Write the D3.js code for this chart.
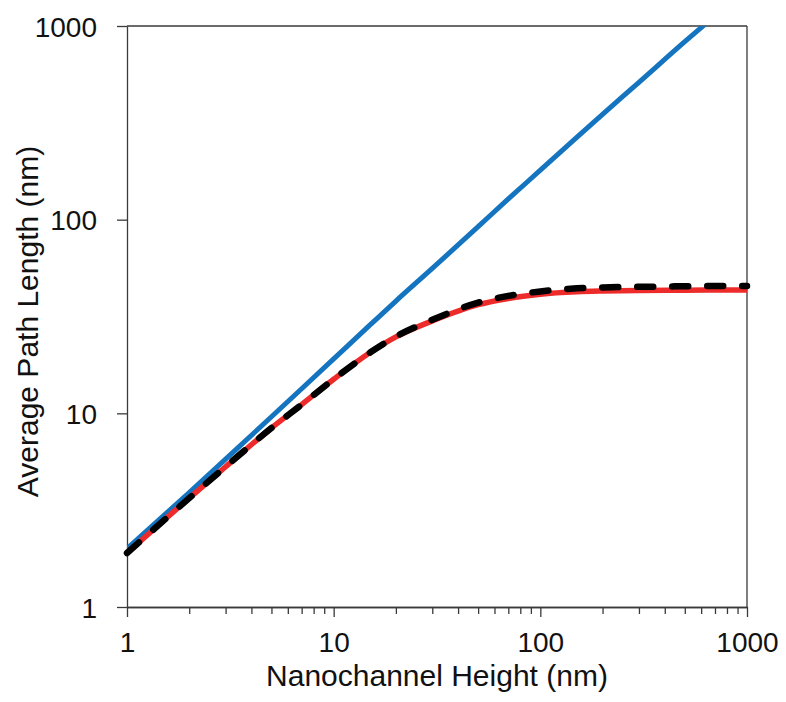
<!DOCTYPE html>
<html>
<head>
<meta charset="utf-8">
<script src="https://cdn.jsdelivr.net/npm/d3@7"></script>
<style>
  body { margin: 0; background: #fff; }
  svg { display: block; font-family: "Liberation Sans", Arial, sans-serif; }
  .axis path, .axis line { stroke: #3a3a3a; stroke-width: 1.3; }
  .axis text { fill: #111; font-size: 28px; }
</style>
</head>
<body>
<svg id="chart" width="786" height="702"></svg>
<script>
// nanochannel height (nm)
const heights = [1, 2, 3, 5, 7, 10, 15, 20, 30, 50, 70, 100, 150, 200, 300, 500, 700, 1000];
// average path length (nm)
const bulkPath = [2.0, 3.9, 5.8, 9.6, 13.4, 19.1, 28.6, 38, 56, 92, 128, 180, 266, 350, 512, 830, 1130, 1580];
const simPath = [1.9, 3.65, 5.3, 8.4, 11.1, 15.0, 20.6, 24.8, 30.0, 36.4, 39.2, 41.2, 42.4, 42.8, 43.1, 43.2, 43.3, 43.3];
const modelPath = [1.9, 3.65, 5.3, 8.4, 11.1, 15.0, 20.6, 24.9, 30.4, 37.3, 40.4, 42.6, 44.2, 44.7, 45.0, 45.3, 45.4, 45.4];

const majorTicks = [1, 10, 100, 1000];
const minorTicks = [2,3,4,5,6,7,8,9, 20,30,40,50,60,70,80,90, 200,300,400,500,600,700,800,900];

const svg = d3.select("#chart");
const plotLeft = 127, plotRight = 747, plotTop = 26, plotBottom = 607;

const x = d3.scaleLog().domain([1, 1000]).range([plotLeft, plotRight]);
const y = d3.scaleLog().domain([1, 1000]).range([plotBottom, plotTop]);

svg.append("defs").append("clipPath").attr("id", "plotclip")
  .append("rect")
  .attr("x", plotLeft).attr("y", plotTop)
  .attr("width", plotRight - plotLeft).attr("height", plotBottom - plotTop);

// frame (top + right)
svg.append("line")
  .attr("x1", plotLeft).attr("x2", plotRight).attr("y1", plotTop).attr("y2", plotTop)
  .attr("stroke", "#3a3a3a").attr("stroke-width", 1.3);
svg.append("line")
  .attr("x1", plotRight).attr("x2", plotRight).attr("y1", plotTop).attr("y2", plotBottom)
  .attr("stroke", "#3a3a3a").attr("stroke-width", 1.3);

// x axis, minor ticks first
svg.append("g")
  .attr("class", "axis")
  .attr("transform", "translate(0," + plotBottom + ")")
  .call(d3.axisBottom(x).tickValues(minorTicks).tickSize(7).tickSizeOuter(0).tickFormat(""));

let xAxis = svg.append("g")
  .attr("class", "axis")
  .attr("transform", "translate(0," + plotBottom + ")")
  .call(d3.axisBottom(x).tickValues(majorTicks).tickSize(10).tickSizeOuter(0).tickFormat(d3.format("d")));
xAxis.selectAll("text").attr("dy", null).attr("y", 45);

let yAxis = svg.append("g")
  .attr("class", "axis")
  .attr("transform", "translate(" + plotLeft + ",0)")
  .call(d3.axisLeft(y).tickValues(majorTicks).tickSize(10).tickSizeOuter(0).tickFormat(d3.format("d")));
yAxis.selectAll("text").attr("x", -30).attr("dy", "0.36em");

// titles
svg.append("text")
  .attr("x", (plotLeft + plotRight) / 2)
  .attr("y", 686)
  .attr("text-anchor", "middle")
  .style("font-size", "30px")
  .attr("fill", "#111")
  .text("Nanochannel Height (nm)");

svg.append("text")
  .attr("transform", "translate(38," + ((plotTop + plotBottom) / 2 + 5) + ") rotate(-90)")
  .attr("text-anchor", "middle")
  .style("font-size", "30px")
  .attr("fill", "#111")
  .text("Average Path Length (nm)");

// curves
function series(vals) {
  return heights.map((h, i) => ({ h: h, v: vals[i] }));
}

const line = d3.line()
  .x(d => x(d.h))
  .y(d => y(d.v))
  .curve(d3.curveMonotoneX);

const plot = svg.append("g").attr("clip-path", "url(#plotclip)");

plot.append("path")
  .datum(series(bulkPath))
  .attr("d", line)
  .attr("fill", "none")
  .attr("stroke", "#1474bf")
  .attr("stroke-width", 5);

plot.append("path")
  .datum(series(simPath))
  .attr("d", line)
  .attr("fill", "none")
  .attr("stroke", "#ee2b2b")
  .attr("stroke-width", 5.5);

svg.append("path")
  .datum(series(modelPath))
  .attr("d", line)
  .attr("fill", "none")
  .attr("stroke", "#000")
  .attr("stroke-width", 6.5)
  .attr("stroke-linecap", "round")
  .attr("stroke-dasharray", "16,19");
</script>
</body>
</html>
